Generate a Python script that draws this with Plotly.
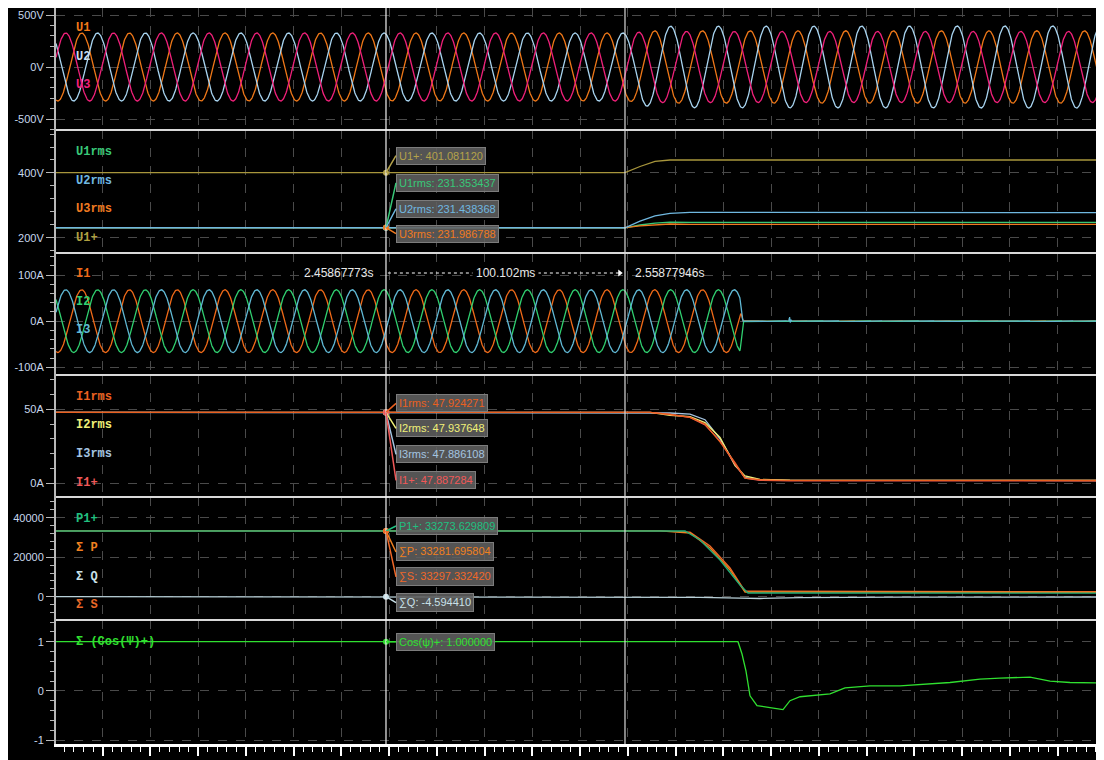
import numpy as np
import plotly.graph_objects as go
from plotly.subplots import make_subplots

# ---- time base and cursors (s) ----
T_START, T_END = 2.32047, 2.75940
CURSOR_A = 2.45867773
CURSOR_B = 2.55877946
DELTA_TEXT = "100.102ms"
F_HZ = 50.0
T_PEAK = 2.33123           # first positive peak of U1 / I1
PHASE_DEG = [0, -120, 120]  # phase 1, 2, 3

# ---- phase voltages: peak envelope (V) ----
U_ENV_T = [2.32047, 2.55879, 2.56507, 2.57135, 2.75940]
U1_ENV = [327, 327, 338, 348, 348]
U2_ENV = [327, 327, 362, 392, 395]
U3_ENV = [327, 327, 336, 342, 342]

# ---- rms voltages (V) ----
U1P_T = [2.32047, 2.55879, 2.56507, 2.57135, 2.57763, 2.75940]
U1P = [401.08, 401.08, 420.0, 436.0, 440.0, 440.0]
URMS_T = [2.32047, 2.55879, 2.56507, 2.57135, 2.57763, 2.58601, 2.75940]
U1RMS = [231.35, 231.35, 240.0, 246.0, 249.0, 248.0, 248.0]
U2RMS = [231.44, 231.44, 252.0, 268.0, 276.0, 279.0, 278.0]
U3RMS = [231.99, 231.99, 237.0, 241.0, 243.0, 242.0, 242.0]

# ---- phase currents: peak envelope (A) ----
I_ENV_T = [2.32047, 2.60695, 2.60820, 2.75940]
I_ENV = [68, 68, 0.8, 0.8]
I_SPIKE_T = [2.62740, 2.62770, 2.62800, 2.62830, 2.62860]
I_SPIKE = [0.5, 9.0, -3.0, 3.0, 0.5]

# ---- rms currents (A) ----
IRMS_T = [2.32047, 2.56926, 2.57763, 2.58601, 2.59229, 2.59858, 2.60486,
          2.60904, 2.61533, 2.62789, 2.75940]
I1RMS = [47.92, 47.92, 46.5, 44.5, 40.0, 28.0, 14.0, 3.5, 2.4, 2.0, 1.9]
I2RMS = [47.94, 47.94, 46.0, 45.0, 41.0, 31.0, 12.0, 5.0, 2.6, 2.1, 2.0]
I3RMS = [47.89, 47.89, 47.5, 46.8, 43.0, 30.0, 13.0, 4.0, 2.3, 2.0, 1.9]
I1P = [47.89, 47.89, 46.6, 44.6, 39.5, 28.5, 13.0, 3.5, 2.0, 1.7, 1.6]

# ---- powers ----
P_T = [2.32047, 2.57344, 2.58392, 2.59020, 2.59858, 2.60695, 2.61030, 2.75940]
P1P = [33273.6, 33273.6, 33260, 28700, 18580, 5920, 1870, 1800]
SP_T = [2.32047, 2.57344, 2.58601, 2.59439, 2.60276, 2.60904, 2.75940]
SUM_P = [33281.7, 33281.7, 32250, 24660, 13520, 2380, 2200]
SUM_S = [33297.3, 33297.3, 32700, 25670, 14530, 2880, 2500]
Q_T = [2.32047, 2.55879, 2.59020, 2.60695, 2.61533, 2.63208, 2.67396, 2.75940]
SUM_Q = [-4.6, -4.6, -300, -700, -900, -500, -200, -150]

# ---- power factor ----
COS_T = [2.32047, 2.60611, 2.60779, 2.60946, 2.61114, 2.61407, 2.61952, 2.62496,
         2.62789, 2.63208, 2.64465, 2.65093, 2.66140, 2.67396, 2.69490, 2.70747,
         2.71585, 2.72841, 2.73679, 2.74516, 2.75940]
COS_PHI = [1.0, 1.0, 0.75, 0.4, -0.1, -0.3, -0.34, -0.38, -0.2, -0.12, -0.06,
           0.06, 0.1, 0.1, 0.17, 0.24, 0.26, 0.28, 0.2, 0.17, 0.16]

# cursor readouts
READ_U = [("U1+: 401.081120", 401.081120, "#b4a24a", -17),
          ("U1rms: 231.353437", 231.353437, "#38c878", -45),
          ("U2rms: 231.438368", 231.438368, "#70b8e0", -19),
          ("U3rms: 231.986788", 231.986788, "#f07a20", 6)]
READ_I = [("I1rms: 47.924271", 47.924271, "#ea6020", -9),
          ("I2rms: 47.937648", 47.937648, "#f0f078", 16),
          ("I3rms: 47.886108", 47.886108, "#a4c4e0", 42),
          ("I1+: 47.887284", 47.887284, "#f05858", 68)]
READ_P = [("P1+: 33273.629809", 33273.629809, "#20c080", -5),
          ("∑P: 33281.695804", 33281.695804, "#f08020", 21),
          ("∑S: 33297.332420", 33297.332420, "#f06828", 46),
          ("∑Q: -4.594410", -4.594410, "#c8e0e8", 6)]
READ_C = [("Cos(ψ)+: 1.000000", 1.0, "#30e030", 0)]

# ---- geometry helpers (page pixels; the figure sits at the page's 8px body margin) ----
L, R, T, B = 56, 1104, 8, 744
W, H = R - L, B - T
FIG_W, FIG_H = 1104, 760


def px(x):
    return (x - L) / W


def py(y):
    return (B - y) / H


BOUNDS = [8, 130, 253, 375, 497, 620, 744]
Y_RANGES = [[-605.8, 567.3], [153.8, 532.3], [-116.7, 147.7],
            [-9.26, 73.2], [-11797, 50481], [-1.081, 1.4415]]
Y_TICKS = [([500, 0, -500], ["500V", "0V", "-500V"], 100),
           ([400, 200], ["400V", "200V"], 40),
           ([100, 0, -100], ["100A", "0A", "-100A"], 20),
           ([50, 0], ["50A", "0A"], 10),
           ([40000, 20000, 0], ["40000", "20000", "0"], 4000),
           ([1, 0, -1], ["1", "0", "-1"], 0.2)]

t = np.arange(T_START, T_END, 0.0002)
w = 2 * np.pi * F_HZ

fig = make_subplots(rows=6, cols=1, shared_xaxes=True, vertical_spacing=0)


def line(x, y, color, row, width=1.3):
    fig.add_trace(go.Scatter(x=x, y=y, mode="lines", line=dict(color=color, width=width),
                             hoverinfo="skip"), row=row, col=1)


# panel 1: voltages
for env, ph, col in zip([U1_ENV, U2_ENV, U3_ENV], PHASE_DEG, ["#f07818", "#a8d4f0", "#f0207a"]):
    amp = np.interp(t, U_ENV_T, env)
    line(t, amp * np.cos(w * (t - T_PEAK) + np.radians(ph)), col, 1)

# panel 2: rms voltages
line(URMS_T, U1RMS, "#38c878", 2)
line(URMS_T, U3RMS, "#f07a20", 2)
line(URMS_T, U2RMS, "#70b8e0", 2)
line(U1P_T, U1P, "#a8963c", 2)

# panel 3: currents
iamp = np.interp(t, I_ENV_T, I_ENV)
for ph, col in zip(PHASE_DEG, ["#f06a18", "#30d070", "#60b8d4"]):
    line(t, iamp * np.cos(w * (t - T_PEAK) + np.radians(ph)), col, 3)
line(I_SPIKE_T, I_SPIKE, "#60b8d4", 3)

# panel 4: rms currents
line(IRMS_T, I3RMS, "#a4c4e0", 4)
line(IRMS_T, I2RMS, "#f0f078", 4)
line(IRMS_T, I1P, "#f05858", 4)
line(IRMS_T, I1RMS, "#ea6020", 4)

# panel 5: powers
line(Q_T, SUM_Q, "#b8d0d8", 5)
line(SP_T, SUM_S, "#f06828", 5)
line(SP_T, SUM_P, "#f08020", 5)
line(P_T, P1P, "#20b078", 5)

# panel 6: power factor
line(COS_T, COS_PHI, "#30e030", 6)

# axes
for r in range(1, 7):
    fig.update_xaxes(row=r, col=1, range=[T_START, T_END], showgrid=True,
                     gridcolor="#4a4a4a", griddash="dash", gridwidth=1,
                     tickmode="linear", tick0=2.34, dtick=0.02, zeroline=False,
                     showline=False, ticks="", showticklabels=False, automargin=False,
                     fixedrange=True)
    vals, texts, minor = Y_TICKS[r - 1]
    fig.update_yaxes(row=r, col=1, range=Y_RANGES[r - 1],
                     domain=[py(BOUNDS[r]), py(BOUNDS[r - 1])],
                     tickmode="array", tickvals=vals, ticktext=texts,
                     showgrid=True, gridcolor="#4a4a4a", griddash="dash", gridwidth=1,
                     zeroline=False, showline=True, linecolor="#b8b8b8", linewidth=2,
                     ticks="outside", ticklen=8, tickwidth=1, tickcolor="#b8b8b8",
                     tickfont=dict(family="Liberation Sans", size=11, color="#c8d8ee"),
                     minor=dict(tickmode="linear", tick0=0, dtick=minor, ticks="outside",
                                ticklen=4, tickcolor="#b8b8b8", showgrid=False),
                     automargin=False, fixedrange=True)

fig.update_xaxes(row=6, col=1, showline=True, linecolor="white", linewidth=3,
                 ticks="outside", ticklen=9, tickwidth=1.5, tickcolor="white",
                 showticklabels=True, tickformat=".2f",
                 tickfont=dict(family="Liberation Sans", size=12, color="#c8d8ee"),
                 minor=dict(tick0=2.32, dtick=0.004, ticks="outside", ticklen=5,
                            tickwidth=1, tickcolor="white", showgrid=False))

shapes = []
for b in BOUNDS[1:-1]:
    shapes.append(dict(type="line", xref="paper", yref="paper", x0=0, x1=1, y0=py(b), y1=py(b),
                       line=dict(color="#d8d8d8", width=2), layer="above"))
shapes.append(dict(type="line", xref="x6", yref="paper", x0=CURSOR_A, x1=CURSOR_A, y0=0, y1=1,
                   line=dict(color="#f0f0f0", width=1.2), layer="above"))
shapes.append(dict(type="line", xref="x6", yref="paper", x0=CURSOR_B, x1=CURSOR_B, y0=0, y1=1,
                   line=dict(color="#d8d8d8", width=1.2), layer="above"))
# time measurement dotted line
shapes.append(dict(type="line", xref="x6", yref="paper", x0=CURSOR_A + 0.0008, x1=CURSOR_B - 0.0022,
                   y0=py(273), y1=py(273), line=dict(color="white", width=1, dash="dot")))

anns = []
# channel labels
LABELS = [("U1", 28, "#f07818"), ("U2", 57, "#c8dcf0"), ("U3", 85, "#f0207a"),
          ("U1rms", 152, "#38c878"), ("U2rms", 181, "#70b8e0"), ("U3rms", 209, "#f07a20"),
          ("U1+", 238, "#b0a040"),
          ("I1", 274, "#f06a18"), ("I2", 302, "#30d070"), ("I3", 330, "#60b8d4"),
          ("I1rms", 397, "#ea6020"), ("I2rms", 425, "#f0f078"), ("I3rms", 454, "#a4c4e0"),
          ("I1+", 483, "#f05858"),
          ("P1+", 519, "#20c080"), ("Σ P", 548, "#f08020"), ("Σ Q", 577, "#c8e0e8"),
          ("Σ S", 605, "#e86828"), ("Σ (Cos(Ψ)+)", 642, "#30e030")]
for txt, y, col in LABELS:
    anns.append(dict(text="<b>%s</b>" % txt, xref="paper", yref="paper", x=px(74), y=py(y),
                     xanchor="left", yanchor="middle", showarrow=False,
                     font=dict(family="Liberation Mono", size=12, color=col)))

# cursor readouts
for row, reads in [(2, READ_U), (4, READ_I), (5, READ_P), (6, READ_C)]:
    for txt, val, col, ay in reads:
        anns.append(dict(text=txt, xref="x%d" % row, yref="y%d" % row, x=CURSOR_A, y=val,
                         showarrow=True, arrowhead=0, arrowwidth=1.5, arrowcolor=col,
                         ax=10, ay=ay, xanchor="left", yanchor="middle",
                         bgcolor="rgba(96,96,96,0.88)", bordercolor="#7c7c7c", borderwidth=1,
                         borderpad=2, font=dict(family="Liberation Sans", size=11, color=col)))
        fig.add_trace(go.Scatter(x=[CURSOR_A], y=[val], mode="markers",
                                 marker=dict(color=col, size=6), hoverinfo="skip"),
                      row=row, col=1)

# time cursor texts
tfont = dict(family="Liberation Sans", size=12, color="#e8e8e8")
anns.append(dict(text="2.45867773s", xref="paper", yref="paper", x=px(375), y=py(273),
                 xanchor="right", yanchor="middle", showarrow=False, font=tfont))
anns.append(dict(text="2.55877946s", xref="paper", yref="paper", x=px(633), y=py(273),
                 xanchor="left", yanchor="middle", showarrow=False, font=tfont))
anns.append(dict(text=DELTA_TEXT, xref="x6", yref="paper", x=(CURSOR_A + CURSOR_B) / 2,
                 y=py(273), xanchor="center", yanchor="middle", showarrow=False,
                 bgcolor="black", borderpad=3, font=tfont))
fig.add_trace(go.Scatter(x=[CURSOR_B - 0.0022], y=[100 + 2 * 2.167], mode="markers",
                         marker=dict(symbol="triangle-right", color="white", size=6),
                         hoverinfo="skip"), row=3, col=1)

fig.update_layout(width=FIG_W, height=FIG_H,
                  margin=dict(l=L - 8, r=FIG_W + 8 - R, t=T - 8, b=FIG_H + 8 - B),
                  paper_bgcolor="black", plot_bgcolor="black", showlegend=False,
                  shapes=shapes, annotations=anns, template="none")

fig.write_html("out.html")
